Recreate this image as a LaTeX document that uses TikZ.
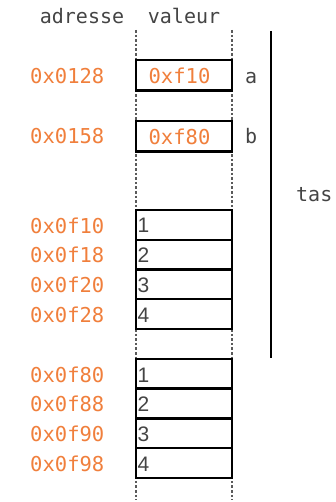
\documentclass[tikz,border=0pt]{standalone}
\usepackage{fontspec}
\setmainfont{Liberation Sans}
\newfontfamily\monof{DejaVu Sans Mono}
\newfontfamily\digf{Liberation Sans}
\definecolor{addr}{HTML}{F07F3C}
\definecolor{txt}{HTML}{444444}
\definecolor{dash}{HTML}{5A5A5A}
\begin{document}
\begin{tikzpicture}[x=1pt,y=-1pt,
  mono/.style={font=\monof\fontsize{20}{24}\selectfont, text=txt, inner sep=0pt},
  addrlbl/.style={font=\monof\fontsize{20.5}{24}\selectfont, text=addr, inner sep=0pt, anchor=base east},
  cell/.style={draw=black, line width=2.3pt, minimum width=96pt, minimum height=30.5pt, inner sep=0pt},
  valcell/.style={cell, font=\monof\fontsize{20.5}{24}\selectfont, text=addr},
  numcell/.style={draw=black, line width=2.3pt, minimum width=96pt, minimum height=29.75pt, inner sep=0pt},
  numtxt/.style={font=\digf\fontsize{21}{24}\selectfont, text=txt, inner sep=0pt, anchor=base west},
  guide/.style={draw=dash, line width=1.8pt, dash pattern=on 2.6pt off 2pt},
  stackline/.style={draw=black, line width=2.3pt}
]
\useasboundingbox (0,0) rectangle (336,502);
% column guides
\coordinate (gl1) at (136,30);
\coordinate (gl2) at (136,500);
\coordinate (gr1) at (232,30);
\coordinate (gr2) at (232,500);
\draw[guide] (gl1) -- (gl2);
\draw[guide] (gr1) -- (gr2);
% headers
\node[mono, anchor=base] (hadr) at (82,24) {adresse};
\node[mono, anchor=base] (hval) at (184,24) {valeur};
% pointer cells
\node[valcell] (ca) at (184,75.4) {\hspace*{-9pt}0xf10};
\node[valcell] (cb) at (184,136.4) {\hspace*{-9pt}0xf80};
\node[addrlbl] (aa) at (104.5,84) {0x0128};
\node[addrlbl] (ab) at (104.5,144) {0x0158};
\node[mono, anchor=base west] (na) at (245,83.5) {a};
\node[mono, anchor=base west] (nb) at (245,144) {b};
% array 1
\node[numcell] (t1) at (184,224.9) {};
\node[numcell] (t2) at (184,254.6) {};
\node[numcell] (t3) at (184,284.4) {};
\node[numcell] (t4) at (184,314.1) {};
\node[numtxt] (v1) at (137.5,232.8) {1};
\node[numtxt] (v2) at (137.5,262.5) {2};
\node[numtxt] (v3) at (137.5,292.2) {3};
\node[numtxt] (v4) at (137.5,322) {4};
\node[addrlbl] at (104.5,233.3) (a1) {0x0f10};
\node[addrlbl] at (104.5,262.8) (a2) {0x0f18};
\node[addrlbl] at (104.5,292.4) (a3) {0x0f20};
\node[addrlbl] at (104.5,322.2) (a4) {0x0f28};
% array 2
\node[numcell] (u1) at (184,373.8) {};
\node[numcell] (u2) at (184,403.5) {};
\node[numcell] (u3) at (184,433.2) {};
\node[numcell] (u4) at (184,462.9) {};
\node[numtxt] (w1) at (137.5,382.2) {1};
\node[numtxt] (w2) at (137.5,411.7) {2};
\node[numtxt] (w3) at (137.5,441.5) {3};
\node[numtxt] (w4) at (137.5,471) {4};
\node[addrlbl] at (104.5,382.3) (b1) {0x0f80};
\node[addrlbl] at (104.5,411.8) (b2) {0x0f88};
\node[addrlbl] at (104.5,441.6) (b3) {0x0f90};
\node[addrlbl] at (104.5,471.2) (b4) {0x0f98};
% heap
\coordinate (s1) at (271,31);
\coordinate (s2) at (271,358);
\draw[stackline] (s1) -- (s2);
\node[mono, anchor=base west] (tas) at (296,202) {tas};
\end{tikzpicture}
\end{document}
